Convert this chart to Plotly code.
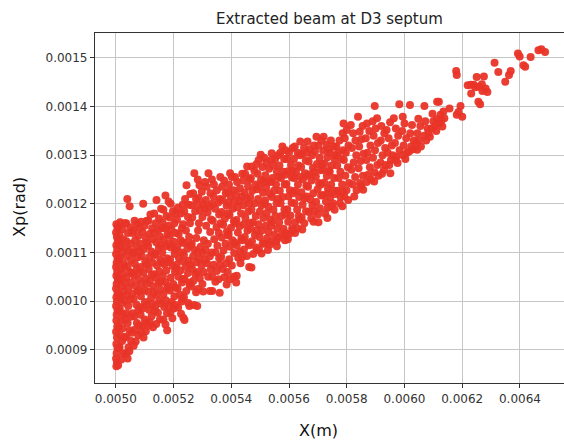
import plotly.graph_objects as go

# Values: X in mm, Xp in mrad (converted to m / rad below)
wall = [(5.002,1.158),(5.006,1.150),(5.001,1.141),(5.004,1.132),(5.007,1.124),(5.002,1.115),(5.005,1.106),(5.001,1.097),
        (5.006,1.088),(5.003,1.079),(5.001,1.070),(5.005,1.061),(5.002,1.052),(5.007,1.044),(5.003,1.035),(5.001,1.026),
        (5.006,1.017),(5.002,1.008),(5.004,0.999),(5.001,0.990),(5.006,0.981),(5.003,0.972),(5.002,0.960),(5.005,0.948),
        (5.001,0.937),(5.004,0.925),(5.002,0.912),(5.006,0.903),(5.003,0.893),(5.001,0.882),(5.004,0.874),(5.008,0.868),(5.002,0.866)]

left_core = [
    (5.015,1.162),(5.022,1.148),(5.013,1.136),(5.026,1.127),(5.017,1.113),(5.024,1.101),(5.014,1.089),(5.027,1.078),(5.018,1.066),
    (5.025,1.055),(5.013,1.043),(5.021,1.031),(5.028,1.020),(5.016,1.009),(5.023,0.996),(5.014,0.984),(5.026,0.972),(5.018,0.959),
    (5.024,0.944),(5.015,0.930),(5.022,0.918),(5.013,0.905),(5.027,0.893),(5.019,0.880),
    (5.040,1.210),(5.048,1.195),(5.036,1.160),(5.050,1.152),(5.042,1.140),(5.037,1.123),(5.052,1.118),(5.045,1.105),(5.038,1.092),
    (5.053,1.084),(5.041,1.071),(5.049,1.060),(5.036,1.048),(5.054,1.038),(5.044,1.027),(5.039,1.012),(5.051,1.003),(5.043,0.990),
    (5.036,0.975),(5.052,0.968),(5.041,0.955),(5.048,0.940),(5.037,0.927),(5.053,0.918),(5.044,0.905),(5.035,0.892),(5.041,0.882),(5.047,0.897),
    (5.065,1.165),(5.074,1.158),(5.062,1.145),(5.078,1.134),(5.067,1.125),(5.072,1.110),(5.061,1.098),(5.077,1.090),(5.066,1.077),
    (5.073,1.066),(5.063,1.052),(5.079,1.045),(5.068,1.031),(5.075,1.019),(5.062,1.005),(5.071,0.993),(5.078,0.981),(5.064,0.969),
    (5.073,0.955),(5.066,0.941),(5.078,0.930),(5.069,0.917),(5.062,0.908),
    (5.095,1.200),(5.088,1.163),(5.100,1.155),(5.092,1.142),(5.104,1.130),(5.087,1.118),(5.097,1.107),(5.090,1.093),(5.102,1.081),
    (5.086,1.070),(5.096,1.059),(5.104,1.046),(5.089,1.036),(5.099,1.022),(5.087,1.010),(5.101,0.998),(5.093,0.985),(5.086,0.972),
    (5.100,0.962),(5.092,0.949),(5.104,0.938),(5.096,0.925),(5.088,0.935),
    (5.120,1.178),(5.113,1.165),(5.126,1.150),(5.117,1.138),(5.129,1.127),(5.112,1.114),(5.123,1.102),(5.116,1.090),(5.128,1.079),
    (5.114,1.066),(5.125,1.054),(5.118,1.042),(5.130,1.030),(5.112,1.019),(5.122,1.006),(5.127,0.994),(5.115,0.982),(5.124,0.969),
    (5.117,0.957),(5.129,0.946),(5.113,0.950),
    (5.141,1.208),(5.150,1.170),(5.138,1.160),(5.147,1.146),(5.153,1.133),(5.140,1.121),(5.149,1.109),(5.137,1.097),(5.154,1.086),
    (5.143,1.073),(5.151,1.061),(5.139,1.048),(5.148,1.037),(5.155,1.024),(5.141,1.013),(5.150,1.001),(5.137,0.989),(5.146,0.976),
    (5.153,0.962),(5.140,0.953),
    (5.172,1.217),(5.165,1.188),(5.176,1.175),(5.162,1.162),(5.171,1.150),(5.179,1.138),(5.166,1.126),(5.174,1.113),(5.161,1.100),
    (5.178,1.088),(5.168,1.076),(5.175,1.063),(5.163,1.051),(5.172,1.039),(5.179,1.026),(5.165,1.014),(5.173,1.002),(5.168,0.988),
    (5.177,0.975),(5.165,0.962),(5.178,0.940),(5.172,0.952),
    (5.190,1.200),(5.198,1.185),(5.187,1.172),(5.203,1.160),(5.193,1.147),(5.186,1.134),(5.201,1.122),(5.191,1.110),(5.204,1.097),
    (5.188,1.085),(5.197,1.072),(5.205,1.060),(5.190,1.048),(5.199,1.035),(5.187,1.022),(5.203,1.010),(5.194,0.998),(5.201,0.985),
    (5.189,0.976),(5.196,0.965),
    (5.215,1.192),(5.226,1.180),(5.212,1.168),(5.229,1.150),(5.218,1.138),(5.225,1.125),(5.213,1.112),(5.228,1.100),(5.219,1.088),
    (5.211,1.075),(5.224,1.063),(5.217,1.050),(5.229,1.038),(5.214,1.026),(5.222,1.013),(5.228,0.999),(5.216,0.987),(5.226,0.974),
    (5.234,0.966),(5.238,0.961),
    (5.245,1.238),(5.240,1.210),(5.252,1.198),(5.237,1.185),(5.250,1.173),(5.243,1.145),(5.254,1.132),(5.239,1.120),(5.248,1.108),
    (5.236,1.095),(5.253,1.083),(5.242,1.071),(5.250,1.058),(5.238,1.046),(5.255,1.034),(5.244,1.021),(5.236,1.008),(5.251,0.996),(5.255,0.990),
    (5.272,1.263),(5.268,1.222),(5.278,1.210),(5.262,1.197),(5.275,1.185),(5.265,1.172),(5.279,1.130),(5.263,1.118),(5.274,1.105),
    (5.268,1.092),(5.280,1.080),(5.264,1.067),(5.276,1.055),(5.269,1.042),(5.262,1.030),(5.278,1.018),(5.271,0.992),(5.282,0.990),
    (5.290,1.238),(5.298,1.225),(5.287,1.212),(5.303,1.199),(5.292,1.186),(5.300,1.173),(5.288,1.160),(5.305,1.125),(5.294,1.112),
    (5.301,1.099),(5.289,1.086),(5.297,1.073),(5.304,1.060),(5.291,1.047),(5.300,1.035),(5.303,1.020)]

left_fill = [
    (5.009,1.153),(5.010,1.120),(5.011,1.085),(5.009,1.048),(5.010,1.013),(5.011,0.978),(5.009,0.945),(5.010,0.905),
    (5.031,1.160),(5.033,1.110),(5.030,1.070),(5.032,1.038),(5.031,1.002),(5.033,0.962),(5.030,0.925),
    (5.057,1.140),(5.058,1.100),(5.056,1.058),(5.057,1.015),(5.058,0.975),(5.056,0.935),
    (5.082,1.150),(5.083,1.103),(5.081,1.060),(5.082,1.022),(5.083,0.988),(5.081,0.950),
    (5.107,1.165),(5.108,1.120),(5.106,1.075),(5.107,1.035),(5.108,0.992),(5.106,0.955),
    (5.133,1.180),(5.132,1.140),(5.134,1.095),(5.133,1.055),(5.132,1.018),(5.134,0.980),
    (5.157,1.190),(5.158,1.150),(5.156,1.115),(5.158,1.080),(5.157,1.040),(5.156,0.995),
    (5.183,1.205),(5.182,1.155),(5.184,1.118),(5.183,1.080),(5.182,1.030),(5.184,0.990),
    (5.207,1.180),(5.208,1.140),(5.206,1.105),(5.208,1.068),(5.207,1.028),(5.206,0.992),
    (5.232,1.198),(5.233,1.158),(5.231,1.120),(5.233,1.082),(5.232,1.045),(5.231,1.005),
    (5.258,1.220),(5.257,1.160),(5.259,1.115),(5.258,1.075),(5.257,1.038),
    (5.284,1.250),(5.283,1.198),(5.285,1.145),(5.284,1.100),(5.283,1.060),(5.285,1.025)]

mid_core = [
    (5.321,1.263),(5.315,1.235),(5.328,1.222),(5.312,1.208),(5.325,1.195),(5.318,1.182),(5.330,1.168),(5.313,1.155),(5.327,1.142),
    (5.319,1.118),(5.311,1.105),(5.326,1.092),(5.316,1.078),(5.329,1.065),(5.320,1.050),(5.326,1.021),(5.334,1.021),
    (5.340,1.240),(5.350,1.228),(5.338,1.215),(5.355,1.203),(5.344,1.190),(5.358,1.178),(5.336,1.165),(5.349,1.152),(5.357,1.140),
    (5.341,1.127),(5.352,1.114),(5.345,1.100),(5.358,1.088),(5.339,1.075),(5.350,1.062),(5.356,1.045),(5.345,1.040),(5.360,1.017),
    (5.375,1.248),(5.368,1.235),(5.381,1.222),(5.370,1.208),(5.384,1.196),(5.366,1.183),(5.378,1.170),(5.372,1.157),(5.385,1.143),
    (5.367,1.131),(5.380,1.118),(5.373,1.104),(5.365,1.091),(5.382,1.078),(5.371,1.066),(5.384,1.034),(5.376,1.049),
    (5.396,1.263),(5.402,1.255),(5.392,1.240),(5.407,1.228),(5.398,1.215),(5.390,1.202),(5.405,1.190),(5.394,1.177),(5.409,1.164),
    (5.399,1.151),(5.391,1.138),(5.404,1.125),(5.396,1.112),(5.410,1.099),(5.393,1.086),(5.402,1.073),(5.396,1.045),(5.409,1.050),
    (5.420,1.245),(5.430,1.232),(5.417,1.219),(5.428,1.206),(5.422,1.193),(5.434,1.180),(5.418,1.167),(5.429,1.154),(5.423,1.141),
    (5.435,1.128),(5.419,1.115),(5.431,1.102),(5.424,1.089),(5.419,1.052),(5.417,1.038),(5.432,1.078),
    (5.455,1.277),(5.448,1.262),(5.441,1.248),(5.458,1.236),(5.446,1.223),(5.453,1.210),(5.442,1.197),(5.459,1.184),(5.449,1.171),
    (5.443,1.158),(5.456,1.145),(5.447,1.132),(5.460,1.119),(5.444,1.106),(5.454,1.093),(5.462,1.070),(5.470,1.069),
    (5.471,1.277),(5.480,1.268),(5.468,1.253),(5.484,1.240),(5.473,1.227),(5.466,1.214),(5.481,1.201),(5.470,1.188),(5.485,1.175),
    (5.475,1.162),(5.467,1.149),(5.482,1.136),(5.472,1.123),(5.486,1.110),(5.476,1.097),
    (5.502,1.301),(5.495,1.290),(5.508,1.276),(5.491,1.262),(5.503,1.249),(5.497,1.236),(5.510,1.223),(5.493,1.210),(5.505,1.197),
    (5.499,1.184),(5.511,1.171),(5.494,1.158),(5.506,1.145),(5.498,1.132),(5.509,1.119),(5.496,1.106),(5.505,1.098),
    (5.522,1.285),(5.531,1.272),(5.518,1.259),(5.528,1.246),(5.521,1.233),(5.534,1.220),(5.517,1.207),(5.529,1.194),(5.523,1.181),
    (5.535,1.168),(5.519,1.155),(5.530,1.142),(5.524,1.129),(5.533,1.116),(5.527,1.105),
    (5.540,1.304),(5.552,1.292),(5.545,1.279),(5.558,1.266),(5.543,1.253),(5.555,1.240),(5.548,1.227),(5.541,1.214),(5.557,1.201),
    (5.546,1.188),(5.553,1.175),(5.542,1.162),(5.559,1.149),(5.549,1.136),(5.556,1.123),(5.558,1.113),
    (5.577,1.318),(5.570,1.305),(5.583,1.292),(5.567,1.279),(5.580,1.266),(5.572,1.253),(5.585,1.240),(5.568,1.227),(5.578,1.214),
    (5.571,1.201),(5.584,1.188),(5.574,1.175),(5.566,1.162),(5.581,1.149),(5.575,1.136),(5.586,1.125),
    (5.600,1.305),(5.593,1.292),(5.607,1.280),(5.596,1.267),(5.610,1.254),(5.591,1.241),(5.603,1.228),(5.598,1.215),(5.609,1.202),
    (5.594,1.189),(5.605,1.176),(5.597,1.163),(5.611,1.150),(5.601,1.138),(5.596,1.127),
    (5.620,1.318),(5.630,1.305),(5.617,1.292),(5.633,1.279),(5.624,1.266),(5.618,1.253),(5.631,1.240),(5.622,1.227),(5.635,1.214),
    (5.619,1.201),(5.628,1.188),(5.634,1.175),(5.621,1.162),(5.629,1.150),(5.621,1.140),
    (5.639,1.328),(5.652,1.315),(5.645,1.302),(5.658,1.289),(5.642,1.276),(5.655,1.263),(5.648,1.250),(5.660,1.237),(5.643,1.224),
    (5.654,1.211),(5.647,1.198),(5.659,1.185),(5.644,1.172),(5.653,1.160),(5.646,1.147),
    (5.664,1.328),(5.672,1.312),(5.680,1.300),(5.668,1.287),(5.683,1.274),(5.671,1.261),(5.678,1.248),(5.666,1.235),(5.684,1.222),
    (5.674,1.209),(5.681,1.196),(5.669,1.183),(5.677,1.170),(5.685,1.163),
    (5.695,1.338),(5.702,1.320),(5.690,1.308),(5.706,1.295),(5.697,1.282),(5.710,1.269),(5.693,1.256),(5.704,1.243),(5.699,1.230),
    (5.711,1.217),(5.694,1.204),(5.707,1.191),(5.700,1.178),(5.702,1.162),
    (5.720,1.338),(5.730,1.322),(5.718,1.309),(5.733,1.296),(5.724,1.283),(5.717,1.270),(5.731,1.257),(5.722,1.244),(5.735,1.231),
    (5.719,1.218),(5.728,1.205),(5.734,1.192),(5.733,1.171),(5.725,1.180),
    (5.745,1.330),(5.755,1.318),(5.742,1.305),(5.758,1.292),(5.748,1.279),(5.741,1.266),(5.756,1.253),(5.746,1.240),(5.759,1.227),
    (5.743,1.214),(5.752,1.201),(5.758,1.188),(5.747,1.195),
    (5.764,1.318),(5.775,1.330),(5.770,1.305),(5.781,1.292),(5.767,1.279),(5.778,1.266),(5.772,1.253),(5.784,1.240),(5.769,1.227),
    (5.779,1.214),(5.776,1.201),(5.785,1.195)]

mid_fill = [
    (5.309,1.245),(5.308,1.190),(5.309,1.085),
    (5.333,1.250),(5.334,1.200),(5.333,1.100),(5.334,1.050),
    (5.362,1.255),(5.361,1.210),(5.363,1.160),(5.361,1.075),
    (5.388,1.225),(5.387,1.180),(5.389,1.135),(5.387,1.060),
    (5.413,1.255),(5.412,1.205),(5.414,1.160),(5.413,1.120),
    (5.438,1.262),(5.437,1.215),(5.438,1.125),(5.437,1.090),
    (5.463,1.250),(5.462,1.200),(5.464,1.160),(5.463,1.115),
    (5.488,1.282),(5.489,1.230),(5.488,1.145),(5.489,1.105),
    (5.514,1.295),(5.513,1.245),(5.515,1.200),(5.513,1.118),
    (5.538,1.290),(5.537,1.245),(5.538,1.155),(5.537,1.122),
    (5.562,1.300),(5.563,1.255),(5.561,1.210),(5.563,1.130),
    (5.588,1.310),(5.587,1.260),(5.588,1.178),(5.587,1.140),
    (5.613,1.315),(5.612,1.268),(5.614,1.222),(5.612,1.145),
    (5.637,1.300),(5.638,1.255),(5.637,1.168),
    (5.662,1.305),(5.663,1.258),(5.661,1.215),
    (5.687,1.320),(5.688,1.265),(5.687,1.185),
    (5.712,1.330),(5.713,1.282),(5.711,1.240),
    (5.737,1.312),(5.738,1.268),(5.736,1.222),
    (5.762,1.300),(5.761,1.220),
    (5.786,1.345),(5.787,1.310),(5.785,1.225)]

right_core = [
    (5.789,1.365),(5.800,1.352),(5.793,1.335),(5.806,1.320),(5.797,1.305),(5.790,1.290),(5.804,1.275),(5.795,1.258),(5.808,1.243),
    (5.799,1.228),(5.792,1.215),(5.805,1.208),
    (5.814,1.362),(5.822,1.345),(5.830,1.330),(5.818,1.315),(5.833,1.300),(5.824,1.285),(5.816,1.270),(5.829,1.255),(5.821,1.240),
    (5.834,1.228),(5.826,1.215),
    (5.839,1.379),(5.845,1.348),(5.855,1.360),(5.851,1.333),(5.843,1.318),(5.858,1.303),(5.848,1.288),(5.841,1.273),(5.856,1.258),
    (5.846,1.243),(5.857,1.229),(5.850,1.236),
    (5.870,1.365),(5.878,1.350),(5.866,1.335),(5.882,1.320),(5.872,1.305),(5.868,1.290),(5.880,1.275),(5.874,1.260),(5.884,1.250),(5.869,1.245),
    (5.897,1.401),(5.890,1.370),(5.905,1.376),(5.900,1.355),(5.893,1.340),(5.908,1.325),(5.898,1.310),(5.891,1.295),(5.906,1.280),
    (5.896,1.265),(5.895,1.246),(5.910,1.258),
    (5.920,1.360),(5.930,1.345),(5.918,1.330),(5.933,1.315),(5.924,1.300),(5.917,1.285),(5.929,1.270),(5.922,1.262),(5.935,1.280),
    (5.938,1.352),(5.950,1.368),(5.945,1.335),(5.956,1.320),(5.942,1.305),(5.953,1.290),(5.947,1.280),(5.951,1.263),(5.959,1.300),
    (5.963,1.376),(5.982,1.405),(5.970,1.355),(5.978,1.340),(5.967,1.325),(5.983,1.310),(5.972,1.297),(5.976,1.284),(5.969,1.290),
    (5.994,1.379),(6.000,1.365),(5.992,1.350),(6.006,1.335),(5.997,1.320),(6.009,1.305),(5.995,1.300),(6.003,1.292),
    (6.019,1.403),(6.026,1.362),(6.020,1.345),(6.032,1.330),(6.023,1.318),(6.017,1.308),(6.030,1.312),
    (6.044,1.311),(6.050,1.331),(6.057,1.318),(6.045,1.345),(6.055,1.360),(6.048,1.375),(6.040,1.325),
    (6.069,1.401),(6.072,1.370),(6.080,1.355),(6.068,1.340),(6.083,1.345),(6.075,1.330),
    (6.094,1.355),(6.088,1.338),(6.100,1.370),(6.106,1.360),(6.097,1.385),(6.110,1.350),
    (6.113,1.410),(6.119,1.410),(6.125,1.383),(6.113,1.374),(6.131,1.359),(6.138,1.376),(6.120,1.365),(6.135,1.390),(6.128,1.372)]

tail = [
    (6.156,1.396),(6.179,1.473),(6.181,1.465),(6.194,1.401),(6.187,1.389),(6.200,1.379),(6.181,1.383),(6.219,1.444),(6.231,1.427),
    (6.250,1.461),(6.256,1.441),(6.275,1.462),(6.281,1.437),(6.287,1.430),(6.256,1.410),(6.262,1.405),(6.240,1.445),(6.268,1.446),
    (6.230,1.445),(6.312,1.490),(6.325,1.471),(6.349,1.451),(6.362,1.465),(6.368,1.473),(6.393,1.509),(6.399,1.503),(6.412,1.485),
    (6.418,1.482),(6.437,1.502),(6.464,1.516),(6.474,1.518),(6.487,1.512),(6.270,1.432),(6.245,1.440)]

x_ticks = [0.0050, 0.0052, 0.0054, 0.0056, 0.0058, 0.0060, 0.0062, 0.0064]
y_ticks = [0.0009, 0.0010, 0.0011, 0.0012, 0.0013, 0.0014, 0.0015]

groups = [wall, left_core, left_fill, mid_core, mid_fill, right_core, tail]
xs = [p[0] * 1e-3 for g in groups for p in g]
ys = [p[1] * 1e-3 for g in groups for p in g]

fig = go.Figure(go.Scatter(
    x=xs, y=ys, mode="markers",
    marker=dict(size=8, color="rgb(233,52,40)", opacity=0.95, line=dict(width=0)),
    hoverinfo="skip"))

font_fam = "DejaVu Sans"
axis_common = dict(showgrid=True, gridcolor="#c6c6c6", gridwidth=1, zeroline=False,
                   showline=True, linecolor="#333333", linewidth=1.2,
                   ticks="outside", ticklen=4, tickcolor="#333333", tickwidth=1,
                   tickfont=dict(family=font_fam, size=12, color="#333333"))

fig.update_layout(
    width=564, height=441,
    margin=dict(l=95, r=0, t=33, b=58),
    paper_bgcolor="white", plot_bgcolor="white",
    showlegend=False,
    xaxis=dict(range=[0.004928, 0.0065525], tickvals=x_ticks,
               ticktext=[f"{v:.4f}" for v in x_ticks], mirror=True, **axis_common),
    yaxis=dict(range=[0.0008316, 0.0015513], tickvals=y_ticks,
               ticktext=[f"{v:.4f}" for v in y_ticks], **axis_common),
    annotations=[
        dict(text="Extracted beam at D3 septum", xref="paper", yref="paper", x=0.501, y=1.04,
             xanchor="center", yanchor="middle", showarrow=False,
             font=dict(family=font_fam, size=15, color="#222222")),
        dict(text="X(m)", xref="paper", yref="paper", x=0.4776, y=-0.137,
             xanchor="center", yanchor="middle", showarrow=False,
             font=dict(family=font_fam, size=16, color="#111111")),
        dict(text="Xp(rad)", xref="paper", yref="paper", x=-0.16, y=0.503, textangle=-90,
             xanchor="center", yanchor="middle", showarrow=False,
             font=dict(family=font_fam, size=16, color="#111111")),
    ],
)

fig.write_html("out.html")
